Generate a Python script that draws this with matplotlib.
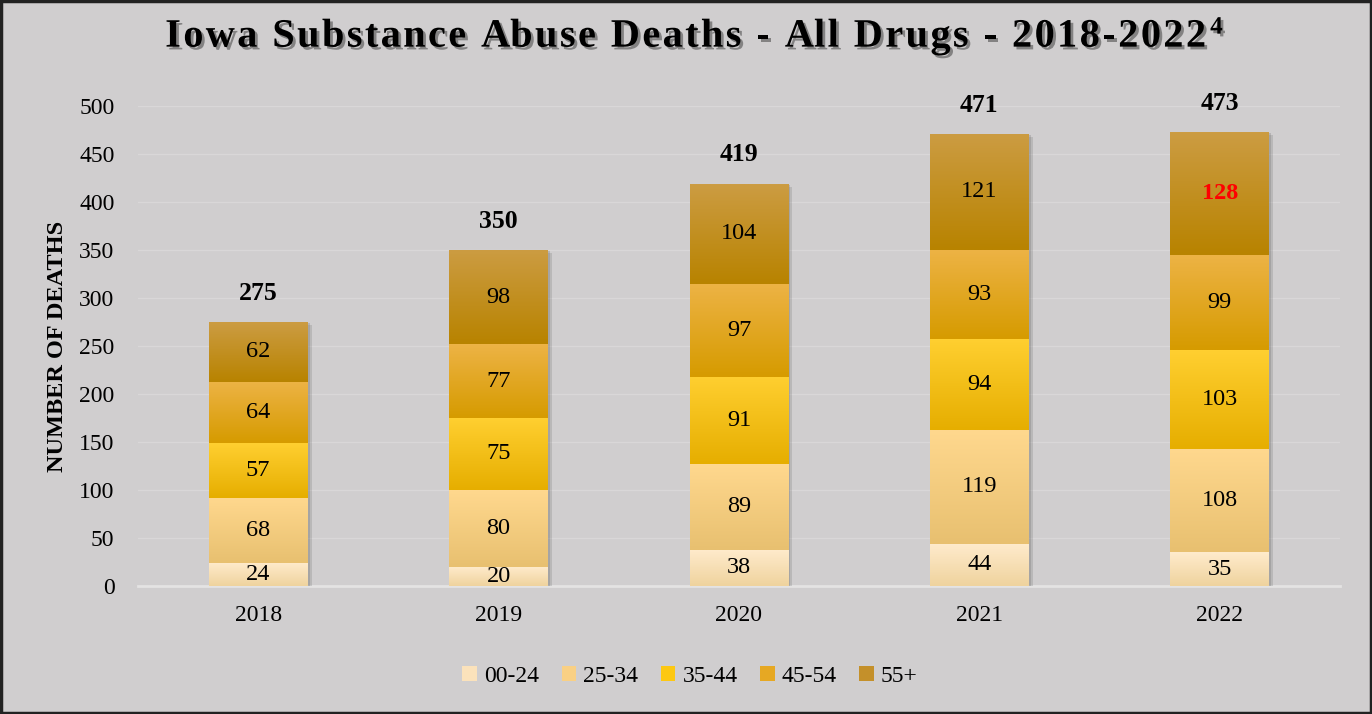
import matplotlib
matplotlib.use("Agg")
import matplotlib.pyplot as plt
import matplotlib.patheffects as pe
from matplotlib.colors import LinearSegmentedColormap
from matplotlib.patches import Rectangle, Patch
import numpy as np

plt.rcParams['font.family'] = ['Liberation Serif', 'DejaVu Serif']

years = ["2018", "2019", "2020", "2021", "2022"]
age_groups = ["00-24", "25-34", "35-44", "45-54", "55+"]
d_00_24 = [24, 20, 38, 44, 35]
d_25_34 = [68, 80, 89, 119, 108]
d_35_44 = [57, 75, 91, 94, 103]
d_45_54 = [64, 77, 97, 93, 99]
d_55_up = [62, 98, 104, 121, 128]
series = [d_00_24, d_25_34, d_35_44, d_45_54, d_55_up]

# (top, bottom) gradient colours per age group
grad = [("#ffebcc", "#efd39e"),
        ("#ffd88e", "#e8c070"),
        ("#ffcf30", "#e6ae00"),
        ("#edb345", "#d69b00"),
        ("#cc9c42", "#b88300")]
legend_cols = ["#fbe2bb", "#f9d084", "#fdc812", "#e6a823", "#c4902a"]

bg = "#d0cecf"
fig = plt.figure(figsize=(13.72, 7.14), dpi=100, facecolor=bg)
ax = fig.add_axes([0.1006, 0.1793, 0.876, 0.6722], facecolor=bg)

x = np.arange(len(years))
width = 0.41
shadow = [pe.SimplePatchShadow(offset=(3, -2), shadow_rgbFace="#6a6a6a", alpha=0.22),
          pe.SimplePatchShadow(offset=(1.5, -1), shadow_rgbFace="#6a6a6a", alpha=0.25),
          pe.Normal()]
bottoms = np.zeros(len(years))
for vals, (ctop, cbot) in zip(series, grad):
    bars = ax.bar(x, vals, width, bottom=bottoms, color=cbot, zorder=3, path_effects=shadow)
    cmap = LinearSegmentedColormap.from_list("g", [ctop, cbot])
    for b in bars:
        im = ax.imshow(np.linspace(0, 1, 64).reshape(-1, 1), cmap=cmap, aspect="auto",
                       extent=[b.get_x(), b.get_x() + b.get_width(), b.get_y(), b.get_y() + b.get_height()],
                       zorder=4, interpolation="bilinear")
        im.set_clip_path(b)
    for xi, v, b0 in zip(x, vals, bottoms):
        color = "red" if (vals is d_55_up and xi == 4) else "black"
        weight = "bold" if color == "red" else "normal"
        ax.text(xi, b0 + v / 2, str(v), ha="center", va="center", fontsize=17.5,
                color=color, fontweight=weight, zorder=5)
    bottoms += np.array(vals)

for xi, t in zip(x, bottoms):
    ax.text(xi, t + 30, str(int(t)), ha="center", va="center", fontsize=18.5,
            fontweight="bold", zorder=5)

ax.set_xlim(-0.5, 4.5)
ax.set_ylim(0, 500)
ax.set_yticks(range(0, 501, 50))
ax.set_xticks(x)
ax.set_xticklabels(years)
ax.tick_params(length=0, labelsize=17)
ax.tick_params(axis="y", pad=17)
ax.tick_params(axis="x", pad=14)
ax.yaxis.grid(True, color="#d9d7d8", linewidth=1, zorder=0)
for s in ["top", "right", "left"]:
    ax.spines[s].set_visible(False)
ax.spines["bottom"].set_color("#e4e3e3")
ax.spines["bottom"].set_linewidth(2)
ax.set_ylabel("NUMBER OF DEATHS", fontsize=17.5, fontweight="bold", labelpad=8)

handles = [Patch(facecolor=c, label=g) for g, c in zip(age_groups, legend_cols)]
fig.legend(handles=handles, loc="center", bbox_to_anchor=(0.503, 0.053), ncol=5, frameon=False,
           fontsize=17, handlelength=0.62, handleheight=0.62, handletextpad=0.3, columnspacing=0.95)

# letter-spaced title with a drop shadow
title = "Iowa Substance Abuse Deaths - All Drugs - 2018-2022"
tsize, track = 29, 2.4
tfx = [pe.withSimplePatchShadow(offset=(2, -2), shadow_rgbFace="#444444", alpha=0.55)]
renderer = fig.canvas.get_renderer()


def text_width(s, size):
    t = fig.text(0, 0, s + "|", fontsize=size, fontweight="bold")
    bar = fig.text(0, 0, "|", fontsize=size, fontweight="bold")
    w = t.get_window_extent(renderer).width - bar.get_window_extent(renderer).width
    t.remove()
    bar.remove()
    return w


total = text_width(title, tsize) + track * (len(title) - 1)
sup_w = text_width("4", 18) + 4
x0 = 694 - (total + sup_w) / 2
for i, ch in enumerate(title):
    px = x0 + text_width(title[:i], tsize) + track * i
    fig.text(px / 1372, 0.948, ch, ha="left", va="center", fontsize=tsize,
             fontweight="bold", path_effects=tfx)
fig.text((x0 + total + 4) / 1372, 0.962, "4", ha="left", va="center", fontsize=18,
         fontweight="bold", path_effects=tfx)

fig.patches.append(Rectangle((0.001, 0.002), 0.998, 0.996, transform=fig.transFigure,
                             fill=False, edgecolor="#222222", linewidth=2.5))

fig.savefig("out.png", dpi=100, facecolor=bg)
